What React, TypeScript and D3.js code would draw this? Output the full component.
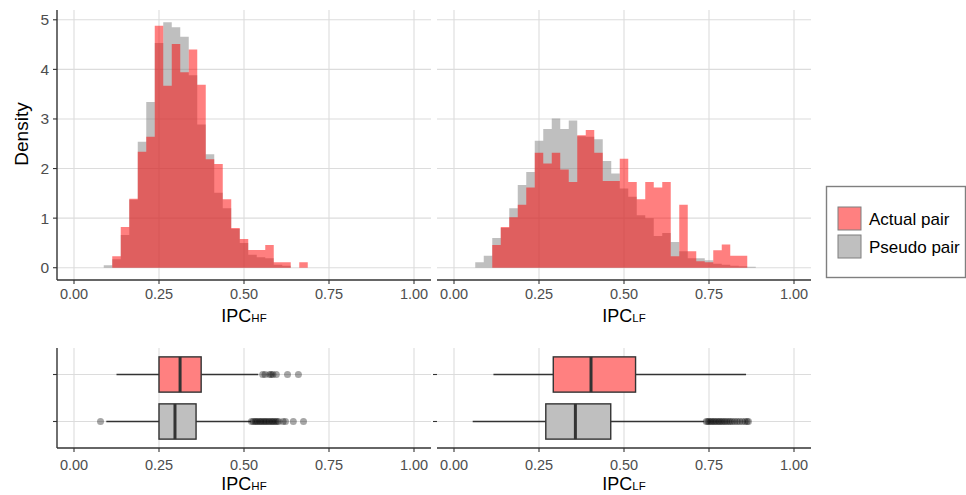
import React from 'react';
import * as d3 from 'd3';

const W = 966;
const H = 495;

// histogram bins (centres), binwidth 0.025
const BIN = 0.025;
const hfBins = [0.1, 0.125, 0.15, 0.175, 0.2, 0.225, 0.25, 0.275, 0.3, 0.325, 0.35, 0.375, 0.4, 0.425, 0.45, 0.475, 0.5, 0.525, 0.55, 0.575, 0.6, 0.625, 0.65, 0.675];
const hfActual = [0, 0.23, 0.82, 1.39, 2.34, 2.64, 4.88, 3.67, 4.51, 3.94, 4.4, 3.69, 2.19, 2.09, 1.38, 0.8, 0.58, 0.36, 0.36, 0.46, 0.11, 0.11, 0, 0.11];
const hfPseudo = [0.05, 0.17, 0.66, 1.37, 2.54, 3.34, 4.53, 4.95, 4.85, 4.66, 3.88, 2.89, 2.29, 1.51, 1.2, 0.78, 0.5, 0.26, 0.21, 0.19, 0.06, 0.04, 0, 0];

const lfBins = [0.075, 0.1, 0.125, 0.15, 0.175, 0.2, 0.225, 0.25, 0.275, 0.3, 0.325, 0.35, 0.375, 0.4, 0.425, 0.45, 0.475, 0.5, 0.525, 0.55, 0.575, 0.6, 0.625, 0.65, 0.675, 0.7, 0.725, 0.75, 0.775, 0.8, 0.825, 0.85, 0.875];
const lfActual = [0, 0, 0.46, 0.82, 1.02, 1.27, 1.62, 2.32, 2.1, 2.32, 1.98, 1.73, 2.67, 2.78, 2.32, 1.75, 1.75, 2.2, 1.73, 1.38, 1.73, 1.62, 1.73, 0.23, 1.27, 0.33, 0.13, 0.11, 0.35, 0.47, 0.24, 0.24, 0];
const lfPseudo = [0.11, 0.24, 0.6, 0.8, 1.2, 1.67, 1.93, 2.56, 2.8, 3.01, 2.8, 2.97, 2.65, 2.64, 2.59, 2.15, 1.9, 1.6, 1.43, 1.06, 1.0, 0.64, 0.7, 0.52, 0.33, 0.19, 0.19, 0.15, 0.08, 0.06, 0.04, 0.03, 0.02];

const groups = ['Actual pair', 'Pseudo pair'];
const xTicks = [0, 0.25, 0.5, 0.75, 1];
const yTicks = [0, 1, 2, 3, 4, 5];

// boxplot stats: [lo, q1, median, q3, hi]
const hfActualBox = [0.125, 0.25, 0.312, 0.374, 0.542];
const hfPseudoBox = [0.095, 0.25, 0.297, 0.359, 0.52];
const lfActualBox = [0.116, 0.292, 0.403, 0.534, 0.859];
const lfPseudoBox = [0.055, 0.27, 0.357, 0.461, 0.735];
const hfActualOut = [0.555, 0.562, 0.575, 0.58, 0.585, 0.595, 0.628, 0.66];
const hfPseudoOut = [0.078, 0.522, 0.527, 0.532, 0.536, 0.54, 0.545, 0.549, 0.553, 0.558, 0.562, 0.566, 0.571, 0.575, 0.58, 0.584, 0.588, 0.593, 0.597, 0.602, 0.615, 0.622, 0.645, 0.675];
const lfActualOut: number[] = [];
const lfPseudoOut = [0.742, 0.746, 0.75, 0.755, 0.759, 0.764, 0.768, 0.773, 0.778, 0.782, 0.787, 0.792, 0.797, 0.802, 0.808, 0.813, 0.819, 0.826, 0.833, 0.84, 0.848, 0.856, 0.862, 0.866];

const RED = 'rgba(255,0,0,0.5)';
const GRAY = 'rgba(128,128,128,0.5)';
const FONT = '"Liberation Sans", Arial, Helvetica, sans-serif';
const GRID = '#dcdcdc';
const AXIS = '#333333';
const TICKTXT = '#4d4d4d';

const barsPath = (bins: number[], vals: number[], x: any, y: any) => {
  const p = d3.path();
  bins.forEach((c, i) => {
    if (vals[i] <= 0) return;
    const x0 = x(c - BIN / 2), x1 = x(c + BIN / 2);
    p.rect(x0, y(vals[i]), x1 - x0, y(0) - y(vals[i]));
  });
  return p.toString();
};

const XLabel = ({ x, y, sub }: { x: number; y: number; sub: string }) => (
  <text x={x} y={y} textAnchor="middle" fontFamily={FONT} fill="#000">
    <tspan fontSize={18}>IPC</tspan>
    <tspan fontSize={11.5}>{sub}</tspan>
  </text>
);

const XAxis = ({ x, y0, x0, x1, labelY }: any) => (
  <g>
    <line x1={x0} x2={x1} y1={y0} y2={y0} stroke={AXIS} strokeWidth={1.4} />
    {xTicks.map(t => (
      <g key={t}>
        <line x1={x(t)} x2={x(t)} y1={y0} y2={y0 + 4} stroke={AXIS} strokeWidth={1.1} />
        <text x={x(t)} y={labelY} textAnchor="middle" fontSize={14.5} fontFamily={FONT} fill={TICKTXT}>{d3.format('.2f')(t)}</text>
      </g>
    ))}
  </g>
);

const HistPanel = ({ range, bins, actual, pseudo, sub, leftAxis }: any) => {
  const x = d3.scaleLinear().domain([-0.05, 1.05]).range(range);
  const y = d3.scaleLinear().domain([-0.2475, 5.1975]).range([280, 10]);
  return (
    <g>
      {xTicks.map(t => <line key={'v' + t} x1={x(t)} x2={x(t)} y1={10} y2={280} stroke={GRID} strokeWidth={1.1} />)}
      {yTicks.map(t => <line key={'h' + t} x1={range[0]} x2={range[1]} y1={y(t)} y2={y(t)} stroke={GRID} strokeWidth={1.1} />)}
      <path d={barsPath(bins, pseudo, x, y)} fill={GRAY} />
      <path d={barsPath(bins, actual, x, y)} fill={RED} />
      {leftAxis && (
        <g>
          <line x1={range[0]} x2={range[0]} y1={10} y2={280} stroke={AXIS} strokeWidth={1.4} />
          {yTicks.map(t => (
            <g key={t}>
              <line x1={range[0] - 4} x2={range[0]} y1={y(t)} y2={y(t)} stroke={AXIS} strokeWidth={1.1} />
              <text x={range[0] - 8} y={y(t) + 5.5} textAnchor="end" fontSize={15.5} fontFamily={FONT} fill={TICKTXT}>{t}</text>
            </g>
          ))}
        </g>
      )}
      <XAxis x={x} y0={280} x0={range[0]} x1={range[1]} labelY={299} />
      <XLabel x={x(0.5)} y={322} sub={sub} />
    </g>
  );
};

const BoxPanel = ({ range, boxes, outs, sub, leftAxis }: any) => {
  const x = d3.scaleLinear().domain([-0.05, 1.05]).range(range);
  const y = d3.scalePoint().domain(groups).range([348, 448]).padding(0.564);
  const bw = y.step() * 0.75;
  const fills = ['#ff8080', '#bfbfbf'];
  return (
    <g>
      {xTicks.map(t => <line key={'v' + t} x1={x(t)} x2={x(t)} y1={348} y2={448} stroke={GRID} strokeWidth={1.1} />)}
      {groups.map(g => <line key={'h' + g} x1={range[0]} x2={range[1]} y1={y(g)} y2={y(g)} stroke={GRID} strokeWidth={1.1} />)}
      {groups.map((g, i) => {
        const [lo, q1, md, q3, hi] = boxes[i];
        const cy = y(g) as number;
        return (
          <g key={g}>
            <line x1={x(lo)} x2={x(q1)} y1={cy} y2={cy} stroke={AXIS} strokeWidth={1.4} />
            <line x1={x(q3)} x2={x(hi)} y1={cy} y2={cy} stroke={AXIS} strokeWidth={1.4} />
            <rect x={x(q1)} y={cy - bw / 2} width={x(q3) - x(q1)} height={bw} fill={fills[i]} stroke={AXIS} strokeWidth={1.4} />
            <line x1={x(md)} x2={x(md)} y1={cy - bw / 2} y2={cy + bw / 2} stroke={AXIS} strokeWidth={3} />
            {outs[i].map((o: number, j: number) => (
              <circle key={j} cx={x(o)} cy={cy} r={3.5} fill="rgba(0,0,0,0.35)" />
            ))}
          </g>
        );
      })}
      {leftAxis && <line x1={range[0]} x2={range[0]} y1={348} y2={448} stroke={AXIS} strokeWidth={1.4} />}
      {groups.map(g => (
        <line key={'t' + g} x1={range[0] - 4} x2={range[0]} y1={y(g)} y2={y(g)} stroke={AXIS} strokeWidth={1.1} />
      ))}
      <XAxis x={x} y0={448} x0={range[0]} x1={range[1]} labelY={470} />
      <XLabel x={x(0.5)} y={490} sub={sub} />
    </g>
  );
};

export default function App() {
  const left = [57, 431];
  const right = [437, 811];
  return (
    <svg width={W} height={H} style={{ position: 'absolute', left: 0, top: 0, background: '#fff' }}>
      <rect width={W} height={H} fill="#fff" />
      <HistPanel range={left} bins={hfBins} actual={hfActual} pseudo={hfPseudo} sub="HF" leftAxis />
      <HistPanel range={right} bins={lfBins} actual={lfActual} pseudo={lfPseudo} sub="LF" leftAxis={false} />
      <BoxPanel range={left} boxes={[hfActualBox, hfPseudoBox]} outs={[hfActualOut, hfPseudoOut]} sub="HF" leftAxis />
      <BoxPanel range={right} boxes={[lfActualBox, lfPseudoBox]} outs={[lfActualOut, lfPseudoOut]} sub="LF" leftAxis={false} />
      <text transform="translate(28,134) rotate(-90)" textAnchor="middle" fontSize={19} fontFamily={FONT} fill="#000">Density</text>
      <g>
        <rect x={826.5} y={186.5} width={139} height={91} fill="#fff" stroke="#7f7f7f" strokeWidth={1.4} />
        {groups.map((g, i) => (
          <g key={g}>
            <rect x={838} y={207 + i * 28} width={23} height={23} fill={i === 0 ? '#ff8080' : '#bfbfbf'} stroke="#7f7f7f" strokeWidth={1} />
            <text x={869} y={225 + i * 28} fontSize={17} fontFamily={FONT} fill="#000">{g}</text>
          </g>
        ))}
      </g>
    </svg>
  );
}
